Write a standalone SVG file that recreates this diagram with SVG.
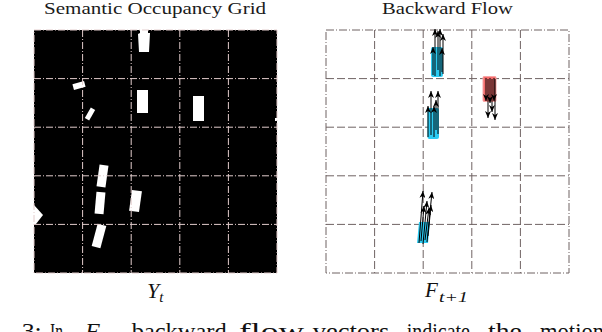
<svg xmlns="http://www.w3.org/2000/svg" width="602" height="332" viewBox="0 0 602 332">
<defs>
<style>
text{font-family:'Liberation Serif',serif}
.ttl{font-size:16px;fill:#1a1a1a}
.lbl{font-style:italic;fill:#111}
.cap{font-size:24px;fill:#111}
.gl{stroke:#e2cccc;stroke-width:1;stroke-dasharray:7 2 1 2;fill:none}
.gr{stroke:#6f6363;stroke-width:1;stroke-dasharray:8 3;fill:none}
.grb{stroke:#6f6363;stroke-width:1;stroke-dasharray:8 2 1 2;fill:none}
.car{fill:#fff}
.cy{fill:#2ccbf2}
.rd{fill:#f46c6c;stroke:#f8a5a5;stroke-width:1}
.ar{stroke:#000;stroke-width:1;fill:none;marker-end:url(#ah)}
</style>
<marker id="ah" markerUnits="userSpaceOnUse" markerWidth="8" markerHeight="6" refX="7" refY="3" orient="auto">
<path d="M0,0 L7,3 L0,6 L2,3 z" fill="#000"/>
</marker>
</defs>
<rect width="602" height="332" fill="#fff"/>

<g id="title-left"><text class="ttl" x="44" y="13.5" textLength="222" lengthAdjust="spacingAndGlyphs">Semantic  Occupancy  Grid</text></g>
<g id="title-right"><text class="ttl" x="382" y="13.5" textLength="131" lengthAdjust="spacingAndGlyphs">Backward  Flow</text></g>

<g id="occupancy-grid">
<rect x="34" y="30" width="243" height="243" fill="#000"/>
<g class="car">
<polygon points="140,30 148,30 148,33 150,33 149,52 139,52 138,34 140,33"/>
<rect x="73" y="82.5" width="12" height="6" transform="rotate(-15 79 85.5)"/>
<rect x="87.5" y="108" width="5" height="12" transform="rotate(30 90 114)"/>
<rect x="137" y="90" width="11" height="23"/>
<rect x="193" y="96" width="11" height="25"/>
<rect x="275" y="118" width="2" height="3"/>
<rect x="98" y="165" width="9" height="22" transform="rotate(8 102.5 176)"/>
<rect x="95.5" y="192" width="9" height="22" transform="rotate(5 100 203)"/>
<rect x="130.5" y="190.5" width="10" height="21" transform="rotate(8 135.5 201)"/>
<rect x="94.5" y="224.5" width="9" height="23" transform="rotate(15 99 236)"/>
<polygon points="34,205 43,215 36,224 34,224"/>
</g>
<g>
<rect class="gl" x="34" y="30" width="243" height="243"/>
<path class="gl" d="M82.6,30V273M131.2,30V273M179.8,30V273M228.4,30V273M34,78.6H277M34,127.2H277M34,175.8H277M34,224.4H277"/>
</g>
</g>

<g id="flow-grid">
<path class="gr" d="M374.6,30V273M423.2,30V273M471.8,30V273M520.4,30V273M326,78.6H569M326,127.2H569M326,175.8H569M326,224.4H569"/>
<rect class="grb" x="326" y="30" width="243" height="243"/>
</g>

<g id="objects">
<rect class="cy" x="431" y="47" width="12" height="30" rx="2"/>
<rect class="cy" x="427.5" y="108" width="11.5" height="31" rx="2"/>
<rect class="rd" x="483" y="76.5" width="13" height="25" rx="1"/>
<polygon class="cy" points="419,222 430,222 428,243 417,243"/>
</g>

<g id="connectors">
<line class="ar" x1="433" y1="75" x2="433" y2="47"/>
<line class="ar" x1="435" y1="76" x2="435" y2="29"/>
<line class="ar" x1="438" y1="70" x2="438" y2="31"/>
<line class="ar" x1="440" y1="76" x2="440" y2="29"/>
<line class="ar" x1="442" y1="72" x2="442" y2="48"/>
<line class="ar" x1="443" y1="74" x2="443" y2="34"/>

<line class="ar" x1="428" y1="137" x2="428" y2="106"/>
<line class="ar" x1="431" y1="135" x2="431" y2="91"/>
<line class="ar" x1="434" y1="137" x2="434" y2="106"/>
<line class="ar" x1="436" y1="130" x2="436" y2="100"/>
<line class="ar" x1="438" y1="134" x2="438" y2="91"/>

<line class="ar" x1="486" y1="78" x2="486" y2="101"/>
<line class="ar" x1="488" y1="79" x2="488" y2="118"/>
<line class="ar" x1="490" y1="78" x2="490" y2="103"/>
<line class="ar" x1="492" y1="79" x2="492" y2="112"/>
<line class="ar" x1="494" y1="78" x2="494" y2="101"/>
<line class="ar" x1="495" y1="79" x2="495" y2="120"/>

<line class="ar" x1="419" y1="243" x2="423" y2="191"/>
<line class="ar" x1="421" y1="241" x2="424" y2="206"/>
<line class="ar" x1="423" y1="244" x2="427" y2="201"/>
<line class="ar" x1="425" y1="240" x2="429" y2="208"/>
<line class="ar" x1="427" y1="242" x2="432" y2="192"/>
<line class="ar" x1="428" y1="236" x2="431" y2="205"/>
</g>

<g id="label-left"><text class="lbl" x="147" y="298" font-size="22">Y<tspan font-size="15" dy="4">t</tspan></text></g>
<g id="label-right"><text class="lbl" x="425" y="297" font-size="21">F</text><text class="lbl" x="439" y="302" font-size="15" textLength="29" lengthAdjust="spacingAndGlyphs">t+1</text></g>

<g id="caption">
<text class="cap" x="4" y="339" text-anchor="end">Fig.</text>
<text class="cap" x="21.7" y="339" textLength="20" lengthAdjust="spacingAndGlyphs">3:</text>
<text class="cap" x="50" y="339" textLength="13" lengthAdjust="spacingAndGlyphs">In</text>
<text class="cap" x="85" y="339" font-style="italic">F<tspan font-size="16" dy="6">t+1</tspan></text>
<text class="cap" x="131.7" y="339" textLength="95" lengthAdjust="spacingAndGlyphs">backward</text>
<text class="cap" x="239" y="339" textLength="65" lengthAdjust="spacingAndGlyphs">flow</text>
<text class="cap" x="312.7" y="339" textLength="76.6" lengthAdjust="spacingAndGlyphs">vectors</text>
<text class="cap" x="406.7" y="339" textLength="63.3" lengthAdjust="spacingAndGlyphs">indicate</text>
<text class="cap" x="488" y="339" textLength="33.7" lengthAdjust="spacingAndGlyphs">the</text>
<text class="cap" x="540" y="339" textLength="64" lengthAdjust="spacingAndGlyphs">motion</text>
</g>
</svg>
